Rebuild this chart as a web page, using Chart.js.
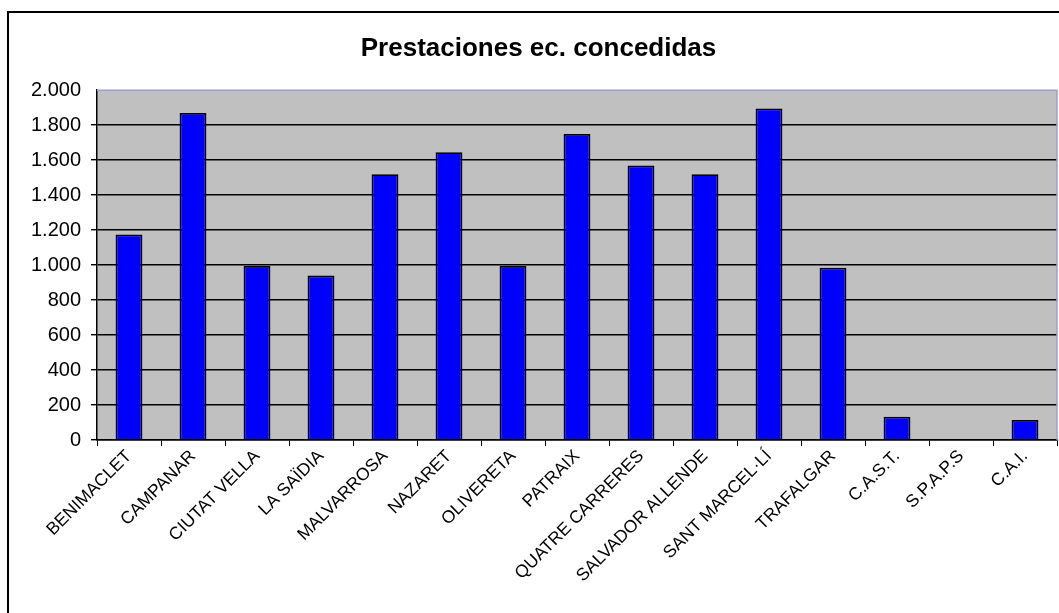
<!DOCTYPE html>
<html>
<head>
<meta charset="utf-8">
<script src="https://cdn.jsdelivr.net/npm/chart.js@4/dist/chart.umd.min.js"></script>
<style>
  html, body { margin: 0; padding: 0; background: #fff; overflow: hidden; }
  #wrap { position: relative; width: 1059px; height: 613px; }
  #frame { position: absolute; left: 7px; top: 11px; width: 2000px; height: 2000px;
           border-left: 2px solid #000; border-top: 2px solid #000; }
  canvas { position: absolute; left: 0; top: 0; }
</style>
</head>
<body>
<div id="wrap">
  <div id="frame"></div>
  <canvas id="chart" width="1059" height="613"></canvas>
</div>
<script>
// ---------- data ----------
const centros = ['BENIMACLET', 'CAMPANAR', 'CIUTAT VELLA', 'LA SAÏDIA', 'MALVARROSA',
  'NAZARET', 'OLIVERETA', 'PATRAIX', 'QUATRE CARRERES', 'SALVADOR ALLENDE',
  'SANT MARCEL·LÍ', 'TRAFALGAR', 'C.A.S.T.', 'S.P.A.P.S', 'C.A.I.'];
const prestaciones = [1175, 1870, 995, 940, 1520, 1645, 995, 1750, 1570, 1520, 1895, 985, 133, 0, 114];
const yMin = 0, yMax = 2000, yStep = 200;
const titulo = 'Prestaciones ec. concedidas';

// miles con punto
const fmt = v => String(v).replace(/\B(?=(\d{3})+(?!\d))/g, '.');

// fondo gris del área de trazado + borde lila arriba/derecha
const plotBg = {
  id: 'plotBg',
  beforeDraw(c) {
    const a = c.chartArea, g = c.ctx;
    g.save();
    g.fillStyle = '#C0C0C0';
    g.fillRect(a.left, a.top, a.right - a.left, a.bottom - a.top);
    g.restore();
  },
  afterDraw(c) {
    const a = c.chartArea, g = c.ctx;
    g.save();
    g.strokeStyle = '#9C9CDA';
    g.lineWidth = 1.5;
    g.beginPath();
    g.moveTo(a.left, a.top);
    g.lineTo(a.right, a.top);
    g.lineTo(a.right, a.bottom);
    g.stroke();
    g.restore();
  }
};

new Chart(document.getElementById('chart'), {
  type: 'bar',
  data: {
    labels: centros,
    datasets: [{
      data: prestaciones,
      backgroundColor: '#0000FF',
      borderColor: '#000',
      borderWidth: 1.8,
      barPercentage: 0.42,
      categoryPercentage: 1
    }]
  },
  options: {
    responsive: false,
    animation: false,
    layout: { padding: { left: 20, right: 2, top: 0, bottom: 0 } },
    plugins: {
      legend: { display: false },
      tooltip: { enabled: false },
      title: {
        display: true,
        text: titulo,
        color: '#000',
        font: { family: 'Liberation Sans, Arial, sans-serif', size: 26, weight: 'bold' },
        padding: { top: 33, bottom: 26 }
      }
    },
    scales: {
      x: {
        grid: { drawOnChartArea: false, drawTicks: true, tickLength: 6, color: '#000', offset: true },
        border: { color: '#000', width: 1.5 },
        ticks: {
          color: '#000', minRotation: 45, maxRotation: 45, autoSkip: false, padding: 0,
          font: { family: 'Liberation Sans, Arial, sans-serif', size: 17.5 }
        },
        afterFit(s) { s.height = 173; }
      },
      y: {
        min: yMin, max: yMax,
        grid: {
          color: ctx => ctx.tick && ctx.tick.value === yMax ? 'rgba(0,0,0,0)' : '#000',
          lineWidth: 1.4, tickLength: 6
        },
        border: { color: '#000', width: 1.5 },
        ticks: {
          stepSize: yStep, color: '#000', padding: 10,
          font: { family: 'Liberation Sans, Arial, sans-serif', size: 20 },
          callback: v => fmt(v)
        },
        afterFit(s) { s.width = 77; }
      }
    }
  },
  plugins: [plotBg]
});
</script>
</body>
</html>
